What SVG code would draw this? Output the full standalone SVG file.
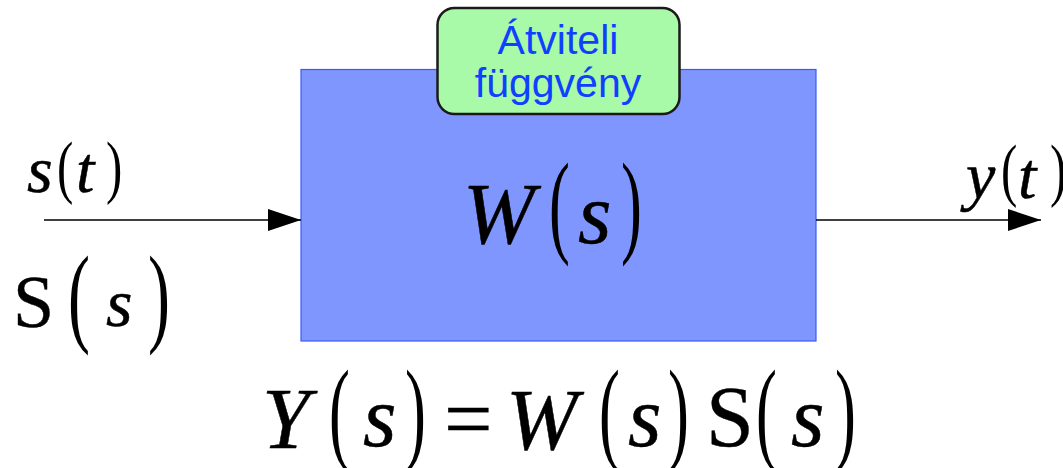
<svg xmlns="http://www.w3.org/2000/svg" width="1063" height="468" viewBox="0 0 1063 468">
<defs>
<style>
.m{font-family:"Liberation Serif","Times New Roman",serif;font-style:italic;fill:#000;stroke:#000;stroke-width:0.5}
.u{font-family:"Liberation Serif","Times New Roman",serif;font-style:normal;fill:#000;stroke:#000;stroke-width:0.4}
.p{font-family:"Liberation Serif","Times New Roman",serif;font-style:normal;fill:#000}
.lbl{font-family:"Liberation Sans",Arial,sans-serif;font-size:41px;fill:#1040ff;text-anchor:middle}
.wire{stroke:#000;stroke-width:1.5;fill:none}
</style>
<marker id="arr" markerWidth="33" markerHeight="22" refX="33" refY="11" orient="auto" markerUnits="userSpaceOnUse">
<path d="M0,0 L33,11 L0,22 Z" fill="#000"/>
</marker>
</defs>
<rect width="1063" height="468" fill="#fff"/>

<g id="block">
<rect x="301" y="69.5" width="515" height="271.5" fill="#8096ff" stroke="#3a5af5" stroke-width="1.2"/>
<text class="m" x="463" y="243" font-size="86">W</text>
<text class="p" font-size="114" transform="translate(549,242) scale(0.55,1)">(</text>
<text class="m" x="578" y="243" font-size="86">s</text>
<text class="p" font-size="114" transform="translate(621,242) scale(0.55,1)">)</text>
</g>

<g id="label">
<rect x="437.5" y="8" width="242" height="106" rx="17" ry="17" fill="#a8f9a8" stroke="#1a1a1a" stroke-width="2.5"/>
<text class="lbl" x="558" y="54">Átviteli</text>
<text class="lbl" x="558" y="97">függvény</text>
</g>

<g id="connectors">
<line class="wire" x1="44" y1="220" x2="301" y2="220" marker-end="url(#arr)"/>
<line class="wire" x1="816" y1="220" x2="1041" y2="220" marker-end="url(#arr)"/>
</g>

<g id="input">
<text class="m" x="27" y="192" font-size="66">s</text>
<text class="p" font-size="70" transform="translate(57,190) scale(0.7,1)">(</text>
<text class="m" x="76" y="192" font-size="66">t</text>
<text class="p" font-size="70" transform="translate(106,190) scale(0.7,1)">)</text>
<text class="u" x="13" y="327" font-size="74">S</text>
<text class="p" font-size="110" transform="translate(68,332) scale(0.6,1)">(</text>
<text class="m" x="106" y="326" font-size="68">s</text>
<text class="p" font-size="110" transform="translate(148,332) scale(0.6,1)">)</text>
</g>

<g id="output">
<text class="m" x="966" y="198" font-size="66">y</text>
<text class="p" font-size="70" transform="translate(1001,193) scale(0.7,1)">(</text>
<text class="m" x="1018" y="198" font-size="66">t</text>
<text class="p" font-size="70" transform="translate(1050,193) scale(0.7,1)">)</text>
</g>

<g id="formula">
<text class="m" x="262" y="448" font-size="86">Y</text>
<text class="p" font-size="114" transform="translate(329,449) scale(0.55,1)">(</text>
<text class="m" x="363" y="446" font-size="86">s</text>
<text class="p" font-size="114" transform="translate(405,449) scale(0.55,1)">)</text>
<text class="u" x="444" y="448" font-size="86">=</text>
<text class="m" x="506" y="449" font-size="86">W</text>
<text class="p" font-size="114" transform="translate(599,449) scale(0.55,1)">(</text>
<text class="m" x="628" y="446" font-size="86">s</text>
<text class="p" font-size="114" transform="translate(668,449) scale(0.55,1)">)</text>
<text class="u" x="706" y="446" font-size="86">S</text>
<text class="p" font-size="114" transform="translate(756,449) scale(0.55,1)">(</text>
<text class="m" x="791" y="446" font-size="86">s</text>
<text class="p" font-size="114" transform="translate(835,449) scale(0.55,1)">)</text>
</g>
</svg>
